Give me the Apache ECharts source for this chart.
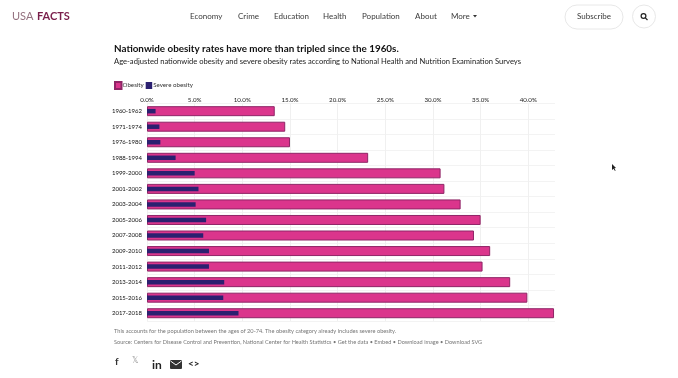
<!DOCTYPE html>
<html>
<head>
<meta charset="utf-8">
<style>html,body{margin:0;padding:0;background:#fff}#c{width:678px;height:378px;filter:blur(0.35px)}</style>
<script src="https://cdn.jsdelivr.net/npm/echarts@6/dist/echarts.min.js"></script>
</head>
<body>
<div id="c"></div>
<script>
const categories = ["1960-1962","1971-1974","1976-1980","1988-1994","1999-2000","2001-2002","2003-2004","2005-2006","2007-2008","2009-2010","2011-2012","2013-2014","2015-2016","2017-2018"];
const obesity = [13.4,14.5,15.0,23.2,30.8,31.2,32.9,35.0,34.3,36.0,35.2,38.1,39.9,42.7];
const severeObesity = [0.9,1.3,1.4,3.0,5.0,5.4,5.1,6.2,5.9,6.5,6.5,8.1,8.0,9.6];
const navItems = [["Economy",190],["Crime",238],["Education",274],["Health",323],["Population",362],["About",415],["More",451]];
const titleText = "Nationwide obesity rates have more than tripled since the 1960s.";
const subtitleText = "Age-adjusted nationwide obesity and severe obesity rates according to National Health and Nutrition Examination Surveys";
const noteText = "This accounts for the population between the ages of 20-74. The obesity category already includes severe obesity.";
const sourceText = "Source: Centers for Disease Control and Prevention, National Center for Health Statistics • Get the data • Embed • Download image • Download SVG";

const FONT = 'Lato,"Open Sans",sans-serif';
const txt = (text,x,y,size,color,extra) => ({type:'text',x,y,silent:true,style:Object.assign({text,fontSize:size,fontFamily:FONT,fill:color,verticalAlign:'middle'},extra||{})});

const chrome = [
  txt("USA",12,16,11,"#94717f",{letterSpacing:2}),
  txt("FACTS",37,16,11,"#7a1f4b",{fontWeight:'bold',letterSpacing:2}),
  ...navItems.map(n=>txt(n[0],n[1],16,8,"#3a3a3a")),
  {type:'polygon',silent:true,shape:{points:[[473,15],[477,15],[475,17.5]]},style:{fill:"#333"}},
  {type:'rect',silent:true,shape:{x:565,y:5,width:58,height:24,r:12},style:{fill:"#fff",stroke:"#e8e8e8"}},
  txt("Subscribe",577,16.5,8,"#3a3a3a"),
  {type:'circle',silent:true,shape:{cx:644,cy:16.5,r:11.5},style:{fill:"#fff",stroke:"#e8e8e8"}},
  {type:'circle',silent:true,shape:{cx:643.5,cy:16,r:2.4},style:{fill:"none",stroke:"#222",lineWidth:1.2}},
  {type:'line',silent:true,shape:{x1:645.3,y1:17.8,x2:647.5,y2:20},style:{stroke:"#222",lineWidth:1.2}},
  txt(titleText,114,49,9.85,"#111",{fontWeight:'bold'}),
  txt(subtitleText,114,62,7.6,"#222"),
  txt(noteText,114,331,5.65,"#777"),
  txt(sourceText,114,342,5.6,"#777"),
  txt("f",115,362,10,"#333",{fontWeight:'bold'}),
  txt("𝕏",132,361,8,"#999",{fontFamily:'"DejaVu Sans",sans-serif'}),
  txt("in",152,365,12,"#222",{fontWeight:'bold'}),
  {type:'rect',silent:true,shape:{x:170,y:360,width:12,height:9,r:1},style:{fill:"#333"}},
  {type:'polyline',silent:true,shape:{points:[[170.5,361],[176,365],[181.5,361]]},style:{fill:"none",stroke:"#fff",lineWidth:1}},
  txt("<>",188,364,10,"#222",{fontWeight:'bold'}),
  {type:'polygon',silent:true,shape:{points:[[612,164],[612,170],[613.5,168.8],[615,171],[615.6,170.5],[614.4,168.3],[616,168]]},style:{fill:"#222"}}
];

const chart = echarts.init(document.getElementById('c'),null,{renderer:'canvas'});
const yBase = {
  type:'category', inverse:true, data:categories,
  axisLine:{show:false}, axisTick:{show:false}
};
chart.setOption({
  animation:false,
  backgroundColor:'#fff',
  textStyle:{fontFamily:FONT},
  legend:{
    left:114, top:81, padding:0, itemWidth:6.5, itemHeight:7, itemGap:2,
    icon:'rect',
    textStyle:{fontSize:6.2,color:'#333',fontFamily:FONT,padding:[0,0,0,-4]},
    data:['Obesity','Severe obesity']
  },
  grid:{left:147,right:123,top:103.4,bottom:57,containLabel:false},
  xAxis:{
    type:'value', position:'top', min:0, max:42.8, interval:5,
    axisLine:{show:false}, axisTick:{show:false},
    axisLabel:{fontSize:6.2,color:'#222',margin:0,showMaxLabel:false,formatter:v=>v.toFixed(1)+'%'},
    splitLine:{show:true,showMaxLine:false,lineStyle:{color:'#f0f0f0',width:1}}
  },
  yAxis:[
    Object.assign({},yBase,{
      axisLabel:{fontSize:6,color:'#111',margin:5},
      splitLine:{show:true,lineStyle:{color:'#f3f3f3',width:1}}
    }),
    Object.assign({},yBase,{position:'left',axisLabel:{show:false},splitLine:{show:false}})
  ],
  series:[
    {name:'Obesity',type:'bar',yAxisIndex:0,data:obesity,barWidth:10,z:2,
     itemStyle:{color:'#db358c',borderColor:'#8f2566',borderWidth:1}},
    {name:'Severe obesity',type:'bar',yAxisIndex:1,data:severeObesity,barWidth:4.5,z:3,
     itemStyle:{color:'#2b2070'}}
  ],
  graphic:{elements:chrome}
});
</script>
</body>
</html>
